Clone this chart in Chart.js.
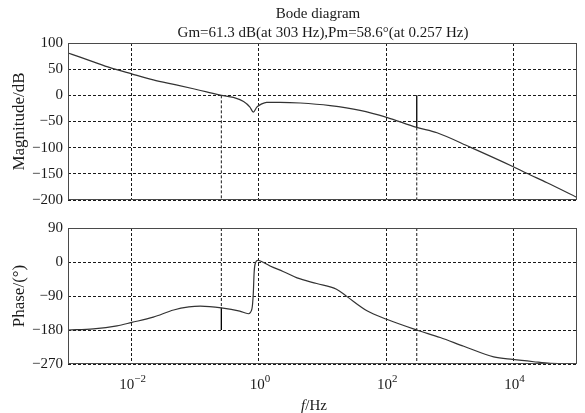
<!DOCTYPE html>
<html>
<head>
<meta charset="utf-8">
<script src="https://cdn.jsdelivr.net/npm/chart.js@4.4.1/dist/chart.umd.min.js"></script>
<style>
  html, body { margin: 0; padding: 0; background: #ffffff; }
  #wrap { position: relative; width: 585px; height: 413px; background: #ffffff; }
  #mag { position: absolute; left: 0; top: 0; }
  #phase { position: absolute; left: 0; top: 214px; }
</style>
</head>
<body>
<div id="wrap">
  <canvas id="mag" width="585" height="214"></canvas>
  <canvas id="phase" width="585" height="199"></canvas>
</div>
<script>
// Frequency response of the loop (Hz, dB, degrees)
const freqMag = [0.001, 0.00155, 0.00251, 0.00457, 0.01, 0.0219, 0.0501, 0.0933, 0.151, 0.257,
                 0.398, 0.575, 0.724, 0.818, 0.927, 1.11, 1.32, 2.14, 4.47, 13.2,
                 38.9, 102, 303, 631, 2089, 9772, 16218, 33884, 100000];
const magDb = [81, 73, 64, 53, 41, 29.5, 20, 12.6, 6.5, 0,
               -4, -12, -22.5, -32, -22.5, -16.4, -13.5, -13.4, -14.6, -19.6,
               -28.7, -42, -61.3, -71.5, -99, -136, -149, -167, -195];

const freqPhase = [0.001, 0.00251, 0.00589, 0.01, 0.0219, 0.0457, 0.0794, 0.12, 0.257, 0.501,
                   0.684, 0.776, 0.818, 0.84, 0.871, 0.97, 1.08, 1.5, 2.4, 3.98,
                   8.1, 16.6, 24, 50, 102, 303, 708, 1660, 4898, 9772,
                   20893, 38019, 100000];
const phaseDeg = [-180, -177, -169, -160, -146, -127, -119, -117, -121.4, -130,
                  -137, -125, -82, -32, -6, 4.6, 2, -10.6, -25, -42,
                  -57, -72, -91, -129, -151.6, -180, -200, -223, -251, -258,
                  -264, -268, -269];

// Stability margins
const gainMarginDb = 61.3;
const gainMarginHz = 303;
const phaseMarginDeg = 58.6;
const phaseMarginHz = 0.257;

// Axis ranges and ticks
const xRange = [0.001, 100000];
const xTickValues = [0.01, 1, 100, 10000];
const xTickExponents = ['\u22122', '0', '2', '4'];
const magRange = [-200, 100];
const magStep = 50;
const phaseRange = [-270, 90];
const phaseStep = 90;

const SERIF = '"Liberation Serif", "Times New Roman", "DejaVu Serif", serif';
const INK = '#1a1a1a';
const DASH = [3, 2];

const toPoints = (xs, ys) => xs.map((x, i) => ({ x: x, y: ys[i] }));
const minusSign = v => String(v).replace('-', '\u2212');

function xScale() {
  return {
    type: 'logarithmic',
    min: xRange[0],
    max: xRange[1],
    afterBuildTicks: s => { s.ticks = xTickValues.map(v => ({ value: v })); },
    ticks: { display: false },
    grid: { color: INK, lineWidth: 1, drawTicks: false },
    border: { display: false, dash: DASH }
  };
}

function yScale(range, step, label) {
  return {
    min: range[0],
    max: range[1],
    ticks: {
      stepSize: step,
      color: INK,
      padding: 5,
      font: { family: SERIF, size: 15 },
      callback: v => minusSign(v)
    },
    grid: { color: INK, lineWidth: 1, drawTicks: false },
    border: { display: false, dash: DASH },
    title: {
      display: true,
      text: label,
      color: INK,
      font: { family: SERIF, size: 17 },
      padding: { top: 9, bottom: 0 }
    },
    afterFit: s => { s.width = 68; }
  };
}

const curveStyle = {
  borderColor: '#333333',
  borderWidth: 1.2,
  pointRadius: 0,
  cubicInterpolationMode: 'monotone',
  fill: false
};
const dashedMarker = { borderColor: INK, borderWidth: 1, borderDash: DASH, pointRadius: 0, fill: false };
const solidMarker = { borderColor: '#000000', borderWidth: 1.3, pointRadius: 0, fill: false };

// Plot frame drawn over the data
const frame = {
  id: 'frame',
  afterDatasetsDraw(chart) {
    const a = chart.chartArea, ctx = chart.ctx;
    ctx.save();
    ctx.strokeStyle = '#4a4a4a';
    ctx.lineWidth = 1;
    ctx.setLineDash([]);
    ctx.strokeRect(Math.round(a.left) + 0.5, Math.round(a.top) + 0.5,
                   Math.round(a.right - a.left) - 1, Math.round(a.bottom - a.top) - 1);
    ctx.restore();
  }
};

// Two-line heading above the magnitude plot
const heading = {
  id: 'heading',
  afterDraw(chart) {
    const ctx = chart.ctx;
    ctx.save();
    ctx.fillStyle = INK;
    ctx.font = '15px ' + SERIF;
    ctx.textAlign = 'center';
    ctx.textBaseline = 'alphabetic';
    ctx.fillText('Bode diagram', 318, 18);
    ctx.fillText('Gm=' + gainMarginDb + ' dB(at ' + gainMarginHz + ' Hz),Pm=' +
                 phaseMarginDeg + '\u00b0(at ' + phaseMarginHz + ' Hz)', 323, 37);
    ctx.restore();
  }
};

// Power-of-ten tick labels and the frequency axis label
const freqAxis = {
  id: 'freqAxis',
  afterDraw(chart) {
    const ctx = chart.ctx, sx = chart.scales.x, a = chart.chartArea;
    ctx.save();
    ctx.fillStyle = INK;
    ctx.textBaseline = 'alphabetic';
    ctx.textAlign = 'left';
    const base = a.bottom + 25;
    xTickValues.forEach((v, i) => {
      const px = sx.getPixelForValue(v);
      ctx.font = '15px ' + SERIF;
      const wb = ctx.measureText('10').width;
      ctx.font = '11px ' + SERIF;
      const we = ctx.measureText(xTickExponents[i]).width;
      const x0 = px - (wb + we) / 2 + 1;
      ctx.font = '15px ' + SERIF;
      ctx.fillText('10', x0, base);
      ctx.font = '11px ' + SERIF;
      ctx.fillText(xTickExponents[i], x0 + wb, base - 7);
    });
    // f/Hz with italic f
    ctx.font = 'italic 15px ' + SERIF;
    const wf = ctx.measureText('f').width;
    ctx.font = '15px ' + SERIF;
    const wr = ctx.measureText('/Hz').width;
    const cx = 314, by = a.bottom + 46;
    const x0 = cx - (wf + wr) / 2;
    ctx.font = 'italic 15px ' + SERIF;
    ctx.fillText('f', x0, by);
    ctx.font = '15px ' + SERIF;
    ctx.fillText('/Hz', x0 + wf, by);
    ctx.restore();
  }
};

const pmPhase = -180 + phaseMarginDeg;

new Chart(document.getElementById('mag'), {
  type: 'line',
  data: {
    datasets: [
      Object.assign({ data: toPoints(freqMag, magDb) }, curveStyle),
      Object.assign({ data: [{ x: phaseMarginHz, y: 0 }, { x: phaseMarginHz, y: magRange[0] }] }, dashedMarker),
      Object.assign({ data: [{ x: gainMarginHz, y: -gainMarginDb }, { x: gainMarginHz, y: magRange[0] }] }, dashedMarker),
      Object.assign({ data: [{ x: gainMarginHz, y: 0 }, { x: gainMarginHz, y: -gainMarginDb }] }, solidMarker)
    ]
  },
  options: {
    responsive: false,
    animation: false,
    layout: { padding: { left: 0, right: 8, top: 43, bottom: 7 } },
    plugins: { legend: { display: false }, tooltip: { enabled: false } },
    scales: {
      x: Object.assign(xScale(), { afterFit: s => { s.height = 0; } }),
      y: yScale(magRange, magStep, 'Magnitude/dB')
    }
  },
  plugins: [frame, heading]
});

new Chart(document.getElementById('phase'), {
  type: 'line',
  data: {
    datasets: [
      Object.assign({ data: toPoints(freqPhase, phaseDeg) }, curveStyle),
      Object.assign({ data: [{ x: phaseMarginHz, y: phaseRange[1] }, { x: phaseMarginHz, y: pmPhase }] }, dashedMarker),
      Object.assign({ data: [{ x: phaseMarginHz, y: pmPhase }, { x: phaseMarginHz, y: -180 }] }, solidMarker),
      Object.assign({ data: [{ x: gainMarginHz, y: phaseRange[1] }, { x: gainMarginHz, y: phaseRange[0] }] }, dashedMarker)
    ]
  },
  options: {
    responsive: false,
    animation: false,
    layout: { padding: { left: 0, right: 8, top: 8, bottom: 0 } },
    plugins: { legend: { display: false }, tooltip: { enabled: false } },
    scales: {
      x: Object.assign(xScale(), { afterFit: s => { s.height = 49; } }),
      y: yScale(phaseRange, phaseStep, 'Phase/(\u00b0)')
    }
  },
  plugins: [frame, freqAxis]
});
</script>
</body>
</html>
